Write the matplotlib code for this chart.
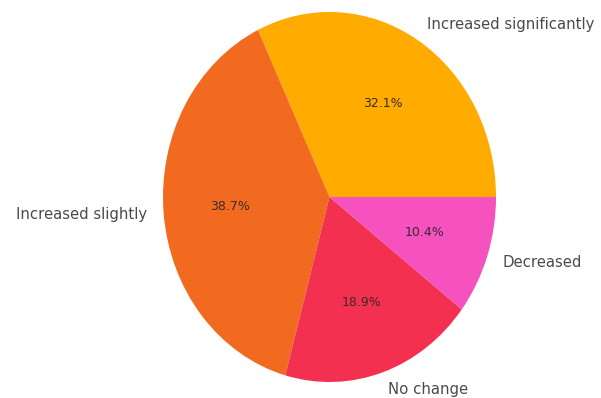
import matplotlib
matplotlib.use('Agg')
import matplotlib.pyplot as plt

labels = ['Increased significantly', 'Increased slightly', 'No change', 'Decreased']
shares = [32.1, 38.7, 18.9, 10.4]
colors = ['#FFAB00', '#F26A1F', '#F3304F', '#F552C0']

fig = plt.figure(figsize=(6.01, 3.98), dpi=100)
ax = fig.add_axes([163 / 601, 16 / 398, 333 / 601, 370 / 398])

wedges, texts, autotexts = ax.pie(shares, labels=labels, colors=colors,
                                  autopct='%1.1f%%', startangle=0,
                                  textprops={'fontsize': 10.7, 'color': '#4a4a4a'})
for t in autotexts:
    t.set_fontsize(9)
    t.set_color('#3a2a2a')

# stretched pie, not a circle
ax.set_aspect('auto')
ax.set_xlim(-1, 1)
ax.set_ylim(-1, 1)

fig.savefig('out.png', dpi=100)
